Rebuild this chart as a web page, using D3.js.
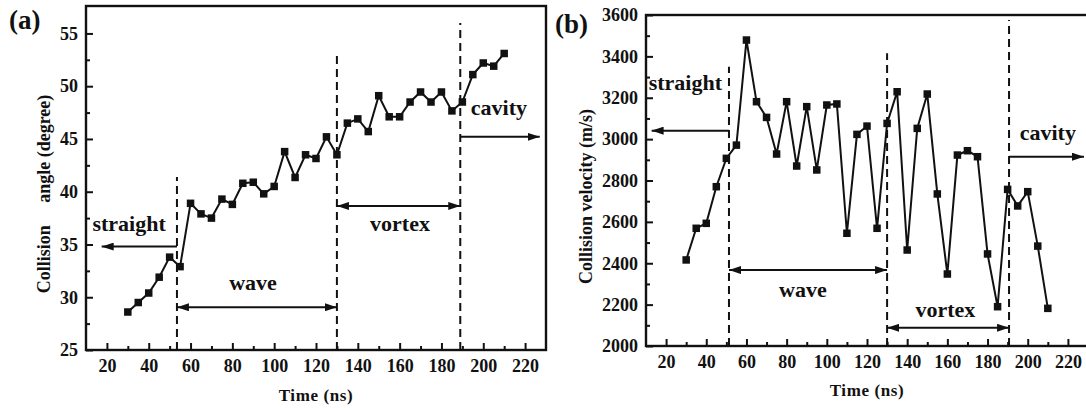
<!DOCTYPE html>
<html>
<head>
<meta charset="utf-8">
<script src="https://cdn.jsdelivr.net/npm/d3@7"></script>
<style>
  body { margin: 0; background: #fff; }
  svg { display: block; }
  text { font-family: "Liberation Serif", "Times New Roman", serif; font-weight: bold; fill: #111; }
</style>
</head>
<body>
<div id="SVG_CONTAINER"></div>
<script>
// time points (ns), shared by both panels
const times = [30, 35, 40, 45, 50, 55, 60, 65, 70, 75, 80, 85, 90, 95, 100, 105, 110, 115, 120,
    125, 130, 135, 140, 145, 150, 155, 160, 165, 170, 175, 180, 185, 190, 195, 200, 205, 210];

// (a) collision angle (degree)
const angleValues = [28.6, 29.5, 30.4, 31.9, 33.8, 32.9, 38.9, 37.9, 37.5, 39.3, 38.8, 40.8, 40.9,
    39.8, 40.5, 43.8, 41.35, 43.5, 43.15, 45.2, 43.5, 46.5, 46.9, 45.7, 49.1, 47.1, 47.1, 48.5,
    49.45, 48.5, 49.45, 47.66, 48.5, 51.1, 52.2, 51.9, 53.1];

// (b) collision velocity (m/s)
const velocityValues = [2416, 2569, 2593, 2770, 2907, 2971, 3479, 3181, 3105, 2928, 3181, 2870,
    3157, 2851, 3165, 3170, 2545, 3023, 3063, 2569, 3076, 3229, 2464, 3052, 3218, 2735, 2348,
    2923, 2944, 2915, 2445, 2190, 2757, 2677, 2746, 2483, 2182];

// tick labels
const timeTicks = [20, 40, 60, 80, 100, 120, 140, 160, 180, 200, 220];
const timeMinor = [30, 50, 70, 90, 110, 130, 150, 170, 190, 210];
const angleTicks = [25, 30, 35, 40, 45, 50, 55];
const angleMinor = [27.5, 32.5, 37.5, 42.5, 47.5, 52.5];
const velocityTicks = [2000, 2200, 2400, 2600, 2800, 3000, 3200, 3400, 3600];
const velocityMinor = [2100, 2300, 2500, 2700, 2900, 3100, 3300, 3500];

// regime boundaries (ns) and the value where each dashed line stops
const angleBounds = [53.5, 130, 189];
const angleBoundTops = [41.4, 52.9, 56.0];
const velocityBounds = [51.3, 130, 190.7];
const velocityBoundTops = [3350, 3415, 3576];

// regime names, arrow spans [from, to] in ns, arrow level, label anchor [t, value]
const regimeNames = ["straight", "wave", "vortex", "cavity"];
const angleSpans = [[53.5, 17.5], [53.5, 130], [130, 189], [189, 227]];
const angleLevels = [34.8, 29.05, 38.65, 45.2];
const angleLabelAt = [[30.6, 36.3], [89.9, 30.7], [160.2, 36.3], [207.5, 47.3]];
const velocitySpans = [[51.3, 12.8], [51.3, 130], [130, 190.7], [190.7, 228]];
const velocityLevels = [3041, 2367, 2088, 2915];
const velocityLabelAt = [[29.6, 3237], [88.1, 2238], [159, 2139], [210, 2996]];
const doubleHeaded = [false, true, true, false];

const width = 1086, height = 410;

const svg = d3.select("#SVG_CONTAINER")
    .append("svg")
    .attr("width", width)
    .attr("height", height);

// arrow heads
const defs = svg.append("defs");
defs.append("marker")
    .attr("id", "head")
    .attr("viewBox", "0 0 12 8")
    .attr("refX", 12).attr("refY", 4)
    .attr("markerWidth", 12).attr("markerHeight", 8)
    .attr("markerUnits", "userSpaceOnUse")
    .attr("orient", "auto-start-reverse")
    .append("path")
    .attr("d", "M0,0 L12,4 L0,8 Z")
    .attr("fill", "#111");

drawPanel({
    tag: "(a)", tagX: 9, tagY: 29,
    left: 86, right: 546, top: 6, bottom: 350,
    yDomain: [25, 57.6],
    values: angleValues, yTicks: angleTicks, yMinor: angleMinor,
    yTitle: "Collision\u00A0\u00A0\u00A0\u00A0 angle (degree)", yTitleX: 50,
    xTitleY: 401,
    bounds: angleBounds, boundTops: angleBoundTops,
    spans: angleSpans, levels: angleLevels, labelAt: angleLabelAt
});

drawPanel({
    tag: "(b)", tagX: 555, tagY: 33,
    left: 646, right: 1088, top: 15, bottom: 346,
    yDomain: [2000, 3600],
    values: velocityValues, yTicks: velocityTicks, yMinor: velocityMinor,
    yTitle: "Collision velocity (m/s)", yTitleX: 592,
    xTitleY: 396,
    bounds: velocityBounds, boundTops: velocityBoundTops,
    spans: velocitySpans, levels: velocityLevels, labelAt: velocityLabelAt
});

function drawPanel(p) {
    const g = svg.append("g");

    const x = d3.scaleLinear().domain([10, 230]).range([p.left, p.right]);
    const y = d3.scaleLinear().domain(p.yDomain).range([p.bottom, p.top]);

    // frame
    g.append("rect")
        .attr("x", p.left).attr("y", p.top)
        .attr("width", p.right - p.left).attr("height", p.bottom - p.top)
        .attr("fill", "none").attr("stroke", "#111").attr("stroke-width", 2.4);

    // x axis (ticks point inward)
    g.append("g")
        .attr("transform", "translate(0," + p.bottom + ")")
        .call(d3.axisBottom(x).tickValues(timeTicks).tickSize(-7).tickPadding(9).tickFormat(d3.format("d")));
    g.append("g")
        .attr("transform", "translate(0," + p.bottom + ")")
        .call(d3.axisBottom(x).tickValues(timeMinor).tickSize(-4).tickFormat(""));

    // y axis
    g.append("g")
        .attr("transform", "translate(" + p.left + ",0)")
        .call(d3.axisLeft(y).tickValues(p.yTicks).tickSize(-7).tickPadding(8).tickFormat(d3.format("d")));
    g.append("g")
        .attr("transform", "translate(" + p.left + ",0)")
        .call(d3.axisLeft(y).tickValues(p.yMinor).tickSize(-4).tickFormat(""));

    g.selectAll(".domain").remove();
    g.selectAll(".tick line").attr("stroke", "#111").attr("stroke-width", 2);
    g.selectAll(".tick text")
        .attr("fill", "#111")
        .style("font-family", "'Liberation Serif', serif")
        .style("font-weight", "bold")
        .style("font-size", "18px");

    // axis titles
    g.append("text")
        .attr("x", (x(20) + x(220)) / 2)
        .attr("y", p.xTitleY)
        .attr("text-anchor", "middle")
        .style("font-size", "17px")
        .style("letter-spacing", "0.6px")
        .text("Time (ns)");

    const yMid = (p.top + p.bottom) / 2 + 16;
    g.append("text")
        .attr("transform", "translate(" + p.yTitleX + "," + yMid + ") rotate(-90)")
        .attr("text-anchor", "middle")
        .style("font-size", "18px")
        .text(p.yTitle);

    // panel tag
    g.append("text")
        .attr("x", p.tagX).attr("y", p.tagY)
        .style("font-size", "27px")
        .text(p.tag);

    // dashed regime boundaries
    g.selectAll(".bound")
        .data(p.bounds)
        .enter()
        .append("line")
        .attr("x1", d => x(d)).attr("x2", d => x(d))
        .attr("y1", p.bottom)
        .attr("y2", (d, i) => y(p.boundTops[i]))
        .attr("stroke", "#111").attr("stroke-width", 2)
        .attr("stroke-dasharray", "8,5");

    // series line + square markers
    const pts = times.map((t, i) => [t, p.values[i]]);
    g.append("path")
        .datum(pts)
        .attr("fill", "none")
        .attr("stroke", "#111")
        .attr("stroke-width", 2)
        .attr("d", d3.line().x(d => x(d[0])).y(d => y(d[1])));
    const s = 7.5;
    g.selectAll(".pt")
        .data(pts)
        .enter()
        .append("rect")
        .attr("x", d => x(d[0]) - s / 2)
        .attr("y", d => y(d[1]) - s / 2)
        .attr("width", s).attr("height", s)
        .attr("fill", "#111");

    // regime arrows + labels
    for (let i = 0; i < regimeNames.length; i++) {
        const ln = g.append("line")
            .attr("x1", x(p.spans[i][0])).attr("x2", x(p.spans[i][1]))
            .attr("y1", y(p.levels[i])).attr("y2", y(p.levels[i]))
            .attr("stroke", "#111").attr("stroke-width", 2)
            .attr("marker-end", "url(#head)");
        if (doubleHeaded[i]) ln.attr("marker-start", "url(#head)");

        g.append("text")
            .attr("x", x(p.labelAt[i][0]))
            .attr("y", y(p.labelAt[i][1]))
            .attr("text-anchor", "middle")
            .style("font-size", "22px")
            .text(regimeNames[i]);
    }
}
</script>
</body>
</html>
